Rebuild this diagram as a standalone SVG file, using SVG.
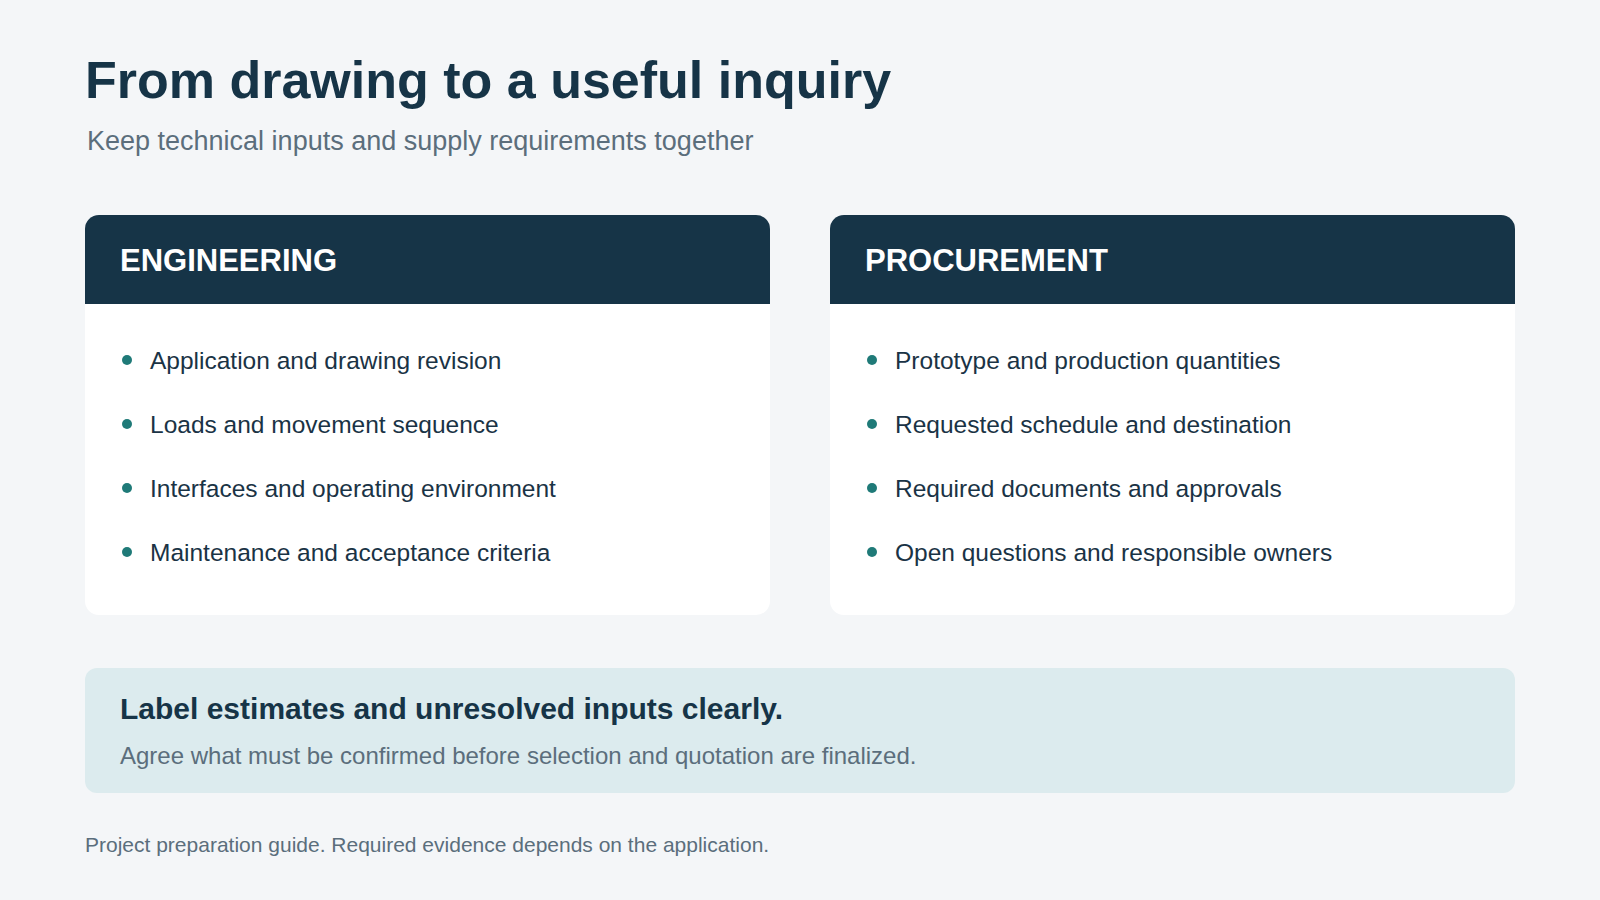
<svg xmlns="http://www.w3.org/2000/svg" width="1600" height="900" viewBox="0 0 1600 900">
<style>
text{font-family:"Liberation Sans",Arial,sans-serif}
.hd{fill:#fff;font-size:31px;font-weight:bold}
.it{fill:#1a3345;font-size:24.5px}
.dot{fill:#1f7a78}
.card{fill:#fff}
.bar{fill:#163447}
</style>
<rect width="1600" height="900" fill="#f4f6f8"/>
<text x="85" y="98" font-size="52" font-weight="bold" fill="#163447">From drawing to a useful inquiry</text>
<text x="87" y="150" font-size="27" fill="#5b6e7c">Keep technical inputs and supply requirements together</text>
<g id="engineering">
<rect class="card" x="85" y="215" width="685" height="400" rx="14"/>
<path class="bar" d="M99 215H756A14 14 0 0 1 770 229V304H85V229A14 14 0 0 1 99 215Z"/>
<text class="hd" x="120" y="271">ENGINEERING</text>
<circle class="dot" cx="127" cy="360" r="5"/><text class="it" x="150" y="369">Application and drawing revision</text>
<circle class="dot" cx="127" cy="424" r="5"/><text class="it" x="150" y="433">Loads and movement sequence</text>
<circle class="dot" cx="127" cy="488" r="5"/><text class="it" x="150" y="497">Interfaces and operating environment</text>
<circle class="dot" cx="127" cy="552" r="5"/><text class="it" x="150" y="561">Maintenance and acceptance criteria</text>
</g>
<g id="procurement">
<rect class="card" x="830" y="215" width="685" height="400" rx="14"/>
<path class="bar" d="M844 215H1501A14 14 0 0 1 1515 229V304H830V229A14 14 0 0 1 844 215Z"/>
<text class="hd" x="865" y="271">PROCUREMENT</text>
<circle class="dot" cx="872" cy="360" r="5"/><text class="it" x="895" y="369">Prototype and production quantities</text>
<circle class="dot" cx="872" cy="424" r="5"/><text class="it" x="895" y="433">Requested schedule and destination</text>
<circle class="dot" cx="872" cy="488" r="5"/><text class="it" x="895" y="497">Required documents and approvals</text>
<circle class="dot" cx="872" cy="552" r="5"/><text class="it" x="895" y="561">Open questions and responsible owners</text>
</g>
<g id="note">
<rect x="85" y="668" width="1430" height="125" rx="12" fill="#dcebee"/>
<text x="120" y="719" font-size="30" font-weight="bold" fill="#163447">Label estimates and unresolved inputs clearly.</text>
<text x="120" y="764" font-size="24" fill="#5b6e7c">Agree what must be confirmed before selection and quotation are finalized.</text>
</g>
<text x="85" y="852" font-size="21" fill="#5b6e7c">Project preparation guide. Required evidence depends on the application.</text>
<g id="connectors"/>
</svg>
